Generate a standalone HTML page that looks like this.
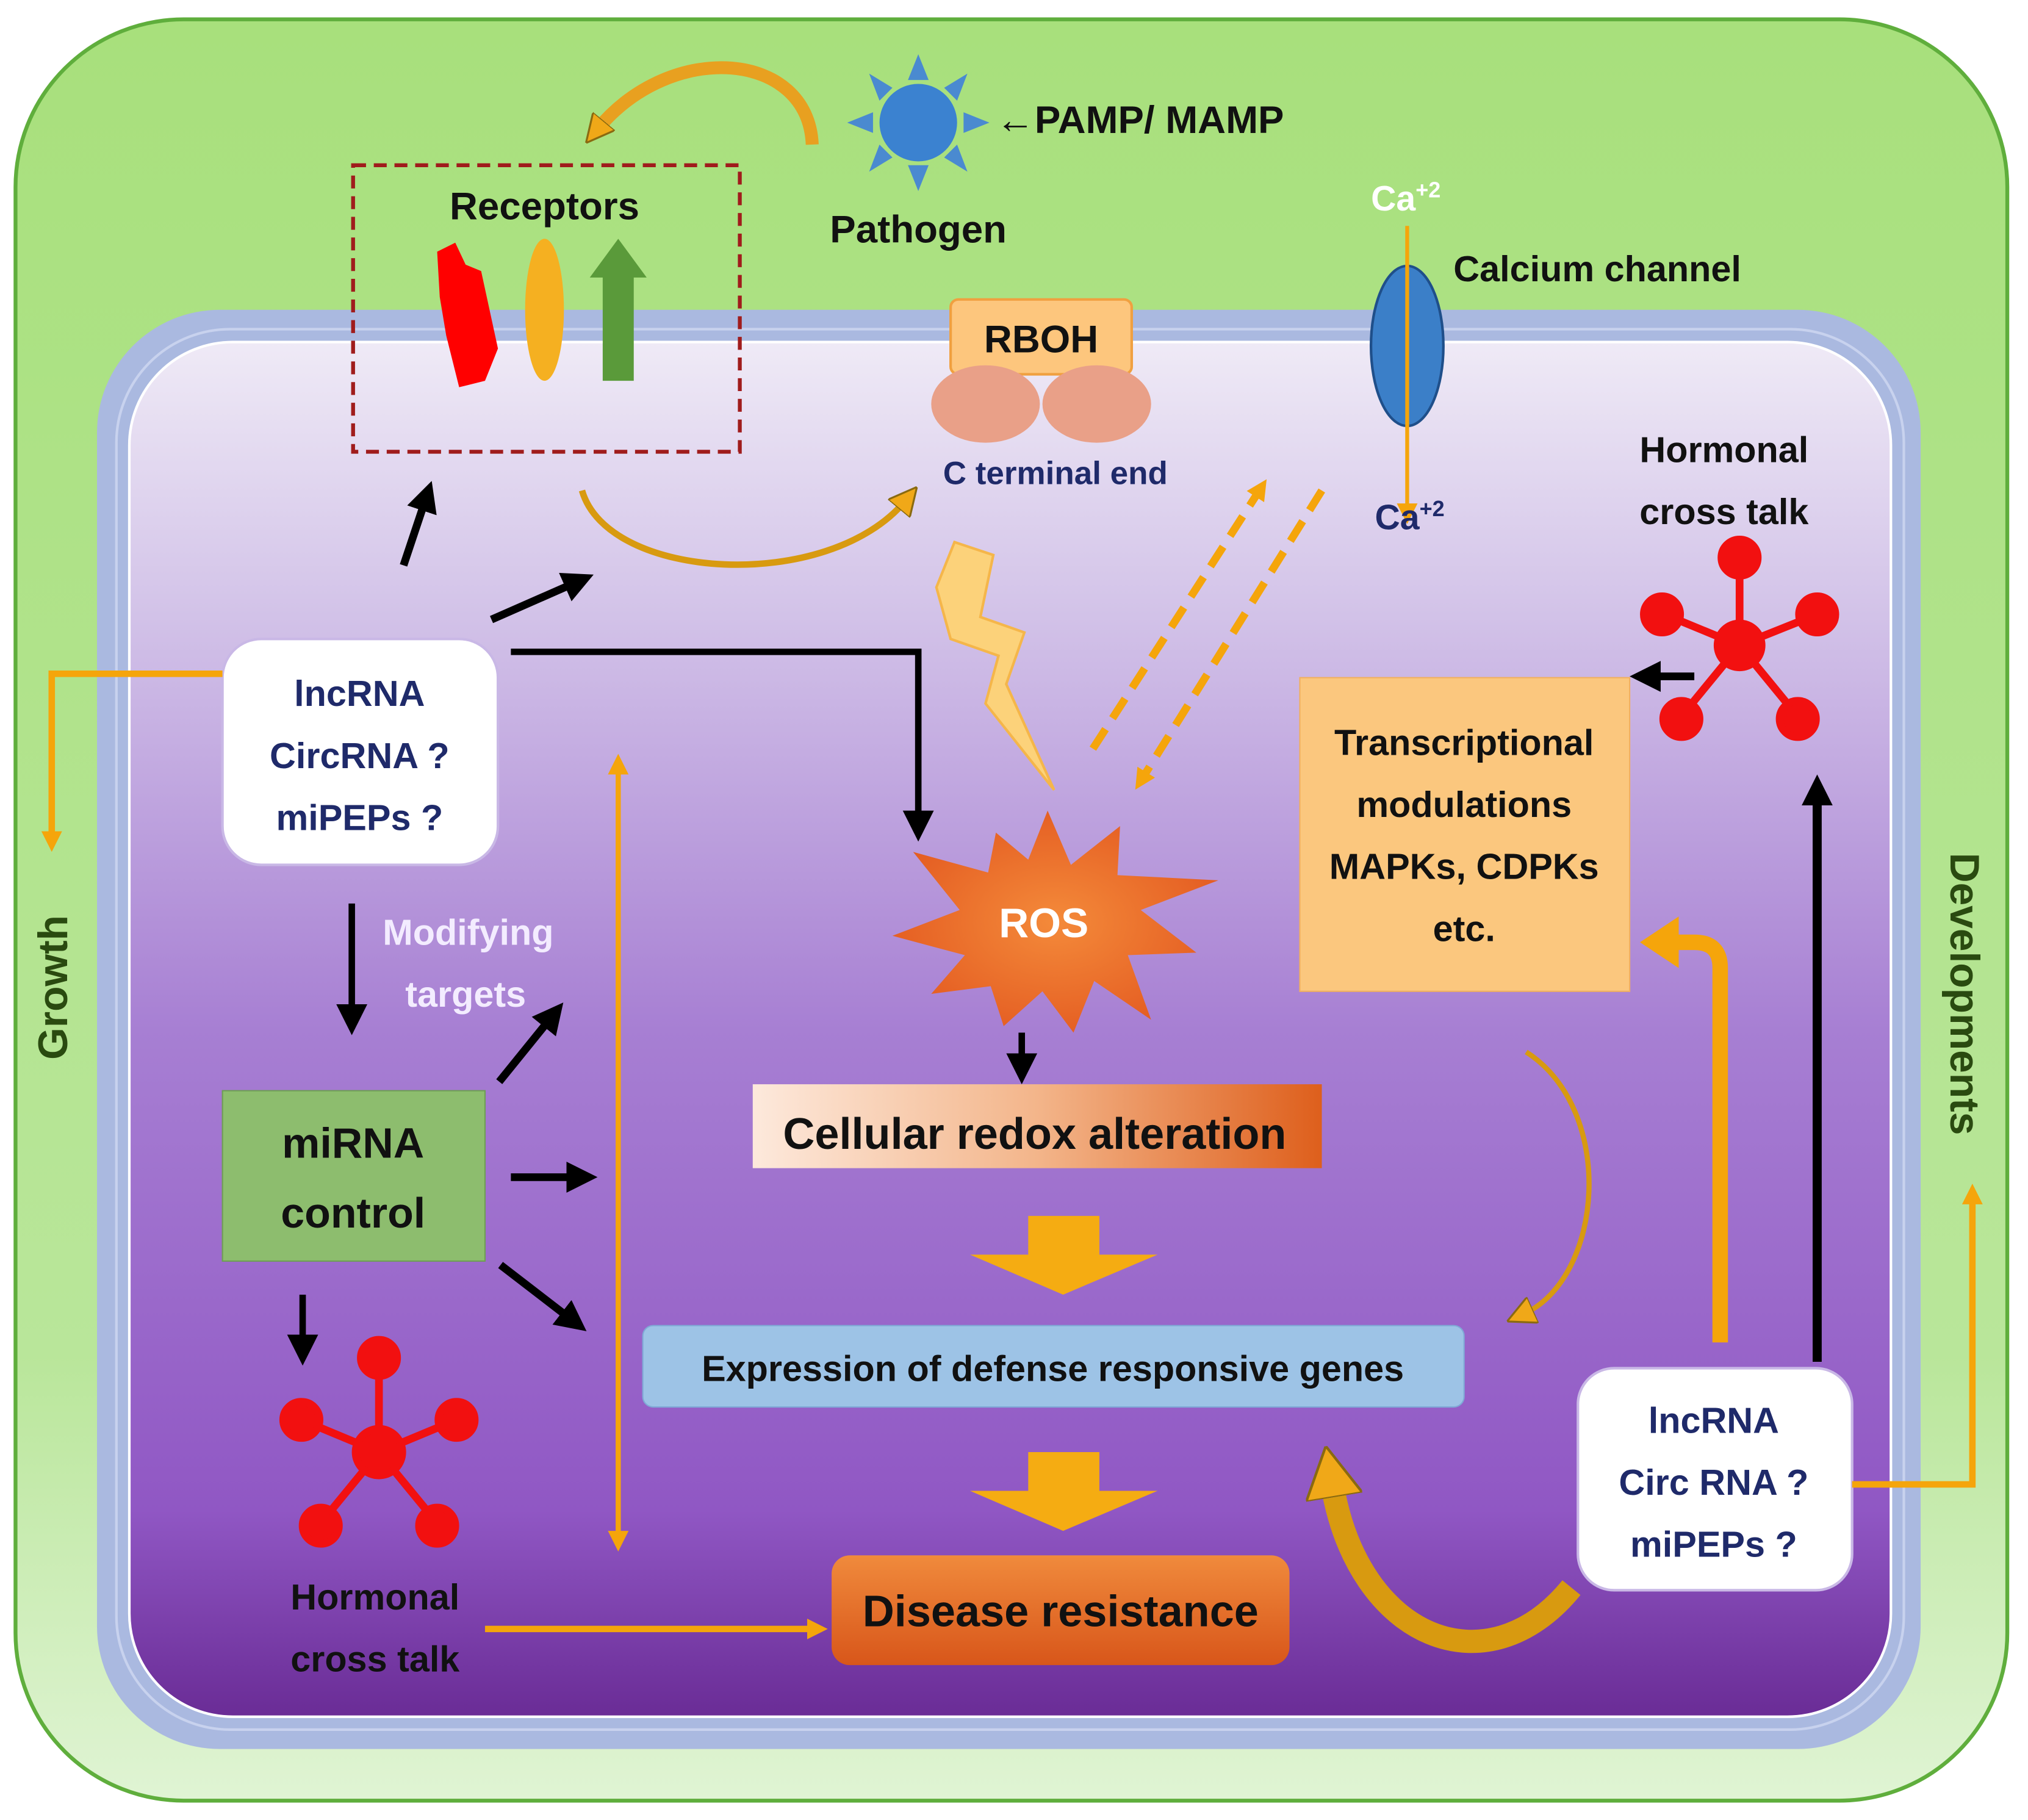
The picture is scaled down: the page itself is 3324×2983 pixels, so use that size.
<!DOCTYPE html>
<html><head><meta charset="utf-8"><style>
html,body{margin:0;padding:0;background:#fff;}
svg{display:block;}
text{font-family:"Liberation Sans",sans-serif;font-weight:bold;}
</style></head><body>
<svg width="3324" height="2983" viewBox="0 0 1568 1410" preserveAspectRatio="none" xmlns="http://www.w3.org/2000/svg">
<defs>
<linearGradient id="gOut" x1="0" y1="0" x2="0" y2="1">
<stop offset="0" stop-color="#a8e07c"/><stop offset="0.75" stop-color="#b9e69a"/><stop offset="1" stop-color="#e0f4d4"/></linearGradient>
<linearGradient id="gIn" x1="0" y1="0" x2="0" y2="1">
<stop offset="0" stop-color="#efeaf6"/><stop offset="0.2" stop-color="#d2c2e8"/><stop offset="0.5" stop-color="#a77fd3"/><stop offset="0.85" stop-color="#9057c4"/><stop offset="1" stop-color="#6a2c96"/></linearGradient>
<linearGradient id="gRedox" x1="0" y1="0" x2="1" y2="0">
<stop offset="0" stop-color="#fde9dc"/><stop offset="0.5" stop-color="#f3b58a"/><stop offset="1" stop-color="#de5f1c"/></linearGradient>
<linearGradient id="gDis" x1="0" y1="0" x2="0" y2="1">
<stop offset="0" stop-color="#f08a3c"/><stop offset="1" stop-color="#d8561a"/></linearGradient>
<radialGradient id="gRos" cx="0.5" cy="0.5" r="0.6"><stop offset="0" stop-color="#f48a3a"/><stop offset="1" stop-color="#e2571f"/></radialGradient>
<marker id="ab" markerWidth="24" markerHeight="24" refX="12" refY="12" orient="auto" markerUnits="userSpaceOnUse"><path d="M0,0 L24,12 L0,24 z" fill="#000"/></marker>
<marker id="ao" markerWidth="16" markerHeight="16" refX="8" refY="8" orient="auto" markerUnits="userSpaceOnUse"><path d="M0,0 L16,8 L0,16 z" fill="#f5a50b"/></marker>
<marker id="aos" markerWidth="16" markerHeight="16" refX="8" refY="8" orient="auto" markerUnits="userSpaceOnUse"><path d="M16,0 L0,8 L16,16 z" fill="#f5a50b"/></marker>
<marker id="aoB" markerWidth="30" markerHeight="40" refX="10" refY="20" orient="auto" markerUnits="userSpaceOnUse"><path d="M0,0 L30,20 L0,40 z" fill="#f5a50b"/></marker>
<marker id="ag" markerWidth="22" markerHeight="22" refX="8" refY="11" orient="auto" markerUnits="userSpaceOnUse"><path d="M0,0 L22,11 L0,22 z" fill="#f0a818" stroke="#8a6a10" stroke-width="1.5"/></marker>
<marker id="agB" markerWidth="40" markerHeight="44" refX="10" refY="22" orient="auto" markerUnits="userSpaceOnUse"><path d="M0,0 L40,22 L0,44 z" fill="#f0a818" stroke="#8a6a10" stroke-width="2"/></marker>
</defs>
<rect x="12" y="15" width="1540" height="1380" rx="130" fill="url(#gOut)" stroke="#5fae3c" stroke-width="3"/>
<rect x="75" y="240" width="1410" height="1115" rx="95" fill="#aab9e0"/>
<rect x="100" y="265" width="1362" height="1065" rx="80" fill="url(#gIn)" stroke="#fff" stroke-width="2"/>
<rect x="90" y="255" width="1382" height="1085" rx="88" fill="none" stroke="#c8d2ee" stroke-width="2"/>

<!-- receptors -->
<rect x="273" y="128" width="299" height="222" fill="none" stroke="#a01c1c" stroke-width="3" stroke-dasharray="10,6"/>
<text x="421" y="170" font-size="30" text-anchor="middle" fill="#111">Receptors</text>
<path d="M338,195 L352,188 L360,205 L372,210 L385,270 L375,295 L355,300 L345,260 L340,230 Z" fill="#f00"/>
<ellipse cx="421" cy="240" rx="15" ry="55" fill="#f5b021"/>
<path d="M478,185 L500,215 L490,215 L490,295 L466,295 L466,215 L456,215 Z" fill="#5a9a3a"/>

<!-- pathogen -->
<path d="M628,112 C625,40 520,30 462,100" fill="none" stroke="#e8a020" stroke-width="10" marker-end="url(#ag)"/>
<g fill="#4a8ad0">
<path d="M710,42 L718,62 L702,62Z"/><path d="M710,148 L718,128 L702,128Z"/>
<path d="M655,95 L675,87 L675,103Z"/><path d="M765,95 L745,87 L745,103Z"/>
<path d="M672,57 L690,68 L680,78Z"/><path d="M748,57 L730,68 L740,78Z"/>
<path d="M672,133 L690,122 L680,112Z"/><path d="M748,133 L730,122 L740,112Z"/>
</g>
<circle cx="710" cy="95" r="30" fill="#3b82d0"/>
<text x="710" y="188" font-size="30" text-anchor="middle" fill="#111">Pathogen</text>
<text x="770" y="103" font-size="30" fill="#111">←PAMP/ MAMP</text>

<!-- RBOH -->
<rect x="735" y="232" width="140" height="58" rx="6" fill="#fdc67d" stroke="#f0a040" stroke-width="2"/>
<text x="805" y="273" font-size="30" text-anchor="middle" fill="#111">RBOH</text>
<ellipse cx="762" cy="313" rx="42" ry="30" fill="#e9a088"/>
<ellipse cx="848" cy="313" rx="42" ry="30" fill="#e9a088"/>
<text x="816" y="375" font-size="25" text-anchor="middle" fill="#1f2a6a">C terminal end</text>

<!-- calcium -->
<ellipse cx="1088" cy="268" rx="28" ry="62" fill="#3b7fc8" stroke="#1f4f8a" stroke-width="2"/>
<line x1="1088" y1="175" x2="1088" y2="398" stroke="#f5a50b" stroke-width="3" marker-end="url(#ao)"/>
<text x="1060" y="163" font-size="27" fill="#fff">Ca<tspan font-size="17" dy="-10">+2</tspan></text>
<text x="1063" y="410" font-size="27" fill="#1f2a6a">Ca<tspan font-size="17" dy="-10">+2</tspan></text>
<text x="1235" y="218" font-size="28" text-anchor="middle" fill="#111">Calcium  channel</text>

<!-- hormonal right -->
<text x="1333" y="358" font-size="28" text-anchor="middle" fill="#111">Hormonal</text>
<text x="1333" y="406" font-size="28" text-anchor="middle" fill="#111">cross talk</text>
<g stroke="#f21010" stroke-width="6" fill="#f21010">
<line x1="1345" y1="500" x2="1345" y2="435"/><line x1="1345" y1="500" x2="1405" y2="476"/><line x1="1345" y1="500" x2="1287" y2="476"/>
<line x1="1345" y1="500" x2="1300" y2="555"/><line x1="1345" y1="500" x2="1390" y2="555"/>
<circle cx="1345" cy="500" r="17"/><circle cx="1345" cy="432" r="14"/><circle cx="1405" cy="476" r="14"/><circle cx="1285" cy="476" r="14"/><circle cx="1300" cy="557" r="14"/><circle cx="1390" cy="557" r="14"/>
</g>
<line x1="1310" y1="524" x2="1272" y2="524" stroke="#000" stroke-width="6" marker-end="url(#ab)"/>

<!-- left hormonal -->
<g stroke="#f21010" stroke-width="6" fill="#f21010">
<line x1="293" y1="1125" x2="293" y2="1055"/><line x1="293" y1="1125" x2="353" y2="1100"/><line x1="293" y1="1125" x2="233" y2="1100"/>
<line x1="293" y1="1125" x2="248" y2="1180"/><line x1="293" y1="1125" x2="338" y2="1180"/>
<circle cx="293" cy="1125" r="18"/><circle cx="293" cy="1052" r="14"/><circle cx="353" cy="1100" r="14"/><circle cx="233" cy="1100" r="14"/><circle cx="248" cy="1182" r="14"/><circle cx="338" cy="1182" r="14"/>
</g>
<text x="290" y="1247" font-size="28" text-anchor="middle" fill="#111">Hormonal</text>
<text x="290" y="1295" font-size="28" text-anchor="middle" fill="#111">cross talk</text>
<line x1="375" y1="1262" x2="632" y2="1262" stroke="#f5a50b" stroke-width="5" marker-end="url(#ao)"/>

<!-- lightning -->
<path d="M738,420 L768,430 L758,478 L792,490 L778,530 L815,612 L762,545 L772,508 L735,495 L724,455 Z" fill="#fcd27a" stroke="#f5b64a" stroke-width="2"/>
<!-- dashed -->
<line x1="845" y1="580" x2="975" y2="378" stroke="#f5a50b" stroke-width="6" stroke-dasharray="18,10" marker-end="url(#ao)"/>
<line x1="1022" y1="380" x2="882" y2="605" stroke="#f5a50b" stroke-width="6" stroke-dasharray="18,10" marker-end="url(#ao)"/>

<!-- curved gold top -->
<path d="M450,380 C470,450 640,460 700,388" fill="none" stroke="#d89a10" stroke-width="5" marker-end="url(#ag)"/>

<!-- ROS -->
<path d="M810,628 L828,670 L866,640 L864,678 L942,682 L882,705 L925,738 L872,740 L890,790 L846,760 L830,800 L806,768 L776,795 L766,764 L720,770 L746,740 L690,725 L742,705 L706,660 L764,676 L770,645 L795,666 Z" fill="url(#gRos)"/>
<text x="807" y="726" font-size="32" text-anchor="middle" fill="#fff">ROS</text>

<line x1="790" y1="800" x2="790" y2="828" stroke="#000" stroke-width="5" marker-end="url(#ab)"/>
<rect x="582" y="840" width="440" height="65" fill="url(#gRedox)"/>
<text x="800" y="890" font-size="34" text-anchor="middle" fill="#111">Cellular redox alteration</text>

<path d="M795,942 L850,942 L850,972 L895,972 L822,1003 L750,972 L795,972 Z" fill="#f5ac12"/>
<rect x="497" y="1027" width="635" height="63" rx="8" fill="#9dc3e6" stroke="#7fa9d6"/>
<text x="814" y="1070" font-size="28" text-anchor="middle" fill="#111">Expression  of defense responsive  genes</text>
<path d="M795,1125 L850,1125 L850,1155 L895,1155 L822,1186 L750,1155 L795,1155 Z" fill="#f5ac12"/>
<rect x="643" y="1205" width="354" height="85" rx="14" fill="url(#gDis)"/>
<text x="820" y="1260" font-size="34" text-anchor="middle" fill="#111">Disease resistance</text>

<!-- transcriptional -->
<rect x="1005" y="525" width="255" height="243" fill="#fbc77e" stroke="#f1b060"/>
<text x="1132" y="585" font-size="28" text-anchor="middle" fill="#111">Transcriptional</text>
<text x="1132" y="633" font-size="28" text-anchor="middle" fill="#111">modulations</text>
<text x="1132" y="681" font-size="28" text-anchor="middle" fill="#111">MAPKs, CDPKs</text>
<text x="1132" y="729" font-size="28" text-anchor="middle" fill="#111">etc.</text>

<!-- curved gold right -->
<path d="M1180,815 C1250,860 1240,990 1178,1018" fill="none" stroke="#d89a10" stroke-width="4" marker-end="url(#ag)"/>
<path d="M1215,1230 C1150,1310 1050,1270 1030,1150" fill="none" stroke="#d89a10" stroke-width="18" marker-end="url(#agB)"/>

<!-- right lncRNA box -->
<rect x="1220" y="1060" width="212" height="172" rx="28" fill="#fff" stroke="#c9b8e6" stroke-width="2"/>
<text x="1325" y="1110" font-size="28" text-anchor="middle" fill="#1f2a6a">lncRNA</text>
<text x="1325" y="1158" font-size="28" text-anchor="middle" fill="#1f2a6a">Circ RNA ?</text>
<text x="1325" y="1206" font-size="28" text-anchor="middle" fill="#1f2a6a">miPEPs ?</text>
<path d="M1330,1040 L1330,750 Q1330,730 1310,730 L1288,730" fill="none" stroke="#f5a50b" stroke-width="12" marker-end="url(#aoB)"/>
<line x1="1405" y1="1055" x2="1405" y2="612" stroke="#000" stroke-width="7" marker-end="url(#ab)"/>
<path d="M1432,1150 L1525,1150 L1525,925" fill="none" stroke="#f5a50b" stroke-width="5" marker-end="url(#ao)"/>
<text transform="translate(1508,770) rotate(90)" font-size="32" text-anchor="middle" fill="#2a4a10">Developments</text>

<!-- left lncRNA -->
<rect x="172" y="495" width="213" height="175" rx="30" fill="#fff" stroke="#c9b8e6" stroke-width="2"/>
<text x="278" y="547" font-size="28" text-anchor="middle" fill="#1f2a6a">lncRNA</text>
<text x="278" y="595" font-size="28" text-anchor="middle" fill="#1f2a6a">CircRNA ?</text>
<text x="278" y="643" font-size="28" text-anchor="middle" fill="#1f2a6a">miPEPs ?</text>
<path d="M172,522 L40,522 L40,652" fill="none" stroke="#f5a50b" stroke-width="5" marker-end="url(#ao)"/>
<text transform="translate(52,765) rotate(-90)" font-size="32" text-anchor="middle" fill="#2a4a10">Growth</text>

<line x1="312" y1="438" x2="330" y2="384" stroke="#000" stroke-width="6" marker-end="url(#ab)"/>
<line x1="380" y1="480" x2="448" y2="450" stroke="#000" stroke-width="6" marker-end="url(#ab)"/>
<path d="M395,505 L710,505 L710,640" fill="none" stroke="#000" stroke-width="5" marker-end="url(#ab)"/>
<line x1="272" y1="700" x2="272" y2="790" stroke="#000" stroke-width="5" marker-end="url(#ab)"/>
<text x="362" y="732" font-size="28" text-anchor="middle" fill="#f3ecff">Modifying</text>
<text x="360" y="780" font-size="28" text-anchor="middle" fill="#f3ecff">targets</text>

<line x1="478" y1="592" x2="478" y2="1194" stroke="#f5a50b" stroke-width="4" marker-start="url(#aos)" marker-end="url(#ao)"/>

<rect x="172" y="845" width="203" height="132" fill="#8dbd6e" stroke="#6f9d55"/>
<text x="273" y="897" font-size="33" text-anchor="middle" fill="#111">miRNA</text>
<text x="273" y="951" font-size="33" text-anchor="middle" fill="#111">control</text>
<line x1="386" y1="838" x2="428" y2="786" stroke="#000" stroke-width="6" marker-end="url(#ab)"/>
<line x1="395" y1="912" x2="450" y2="912" stroke="#000" stroke-width="6" marker-end="url(#ab)"/>
<line x1="387" y1="980" x2="444" y2="1024" stroke="#000" stroke-width="6" marker-end="url(#ab)"/>
<line x1="234" y1="1003" x2="234" y2="1046" stroke="#000" stroke-width="5" marker-end="url(#ab)"/>
</svg>
</body></html>
